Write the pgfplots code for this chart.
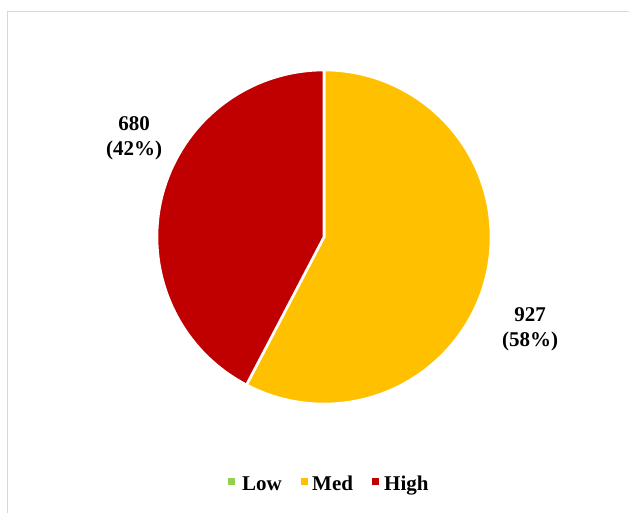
\documentclass[border=0pt]{standalone}
\usepackage{fontspec}
\setmainfont{Liberation Serif}
\usepackage{pgfplots}
\usepackage{pgfplotstable}
\pgfplotsset{compat=1.18}

\definecolor{cLow}{HTML}{92D050}
\definecolor{cMed}{HTML}{FFC000}
\definecolor{cHigh}{HTML}{C00000}

% Counts per level
\pgfplotstableread{
level value
Low   0
Med   927
High  680
}\counts

\begin{document}
\begin{tikzpicture}
\pgfplotstablegetelem{0}{value}\of\counts \let\vLow\pgfplotsretval
\pgfplotstablegetelem{1}{value}\of\counts \let\vMed\pgfplotsretval
\pgfplotstablegetelem{2}{value}\of\counts \let\vHigh\pgfplotsretval
\pgfmathsetmacro\total{\vLow+\vMed+\vHigh}
\pgfmathsetmacro\fLow{\vLow/\total}
\pgfmathsetmacro\fMed{\vMed/\total}
\pgfmathsetmacro\fHigh{\vHigh/\total}
% slices run clockwise from twelve o'clock
\pgfmathsetmacro\aA{90}
\pgfmathsetmacro\aB{\aA-360*\fLow}
\pgfmathsetmacro\aC{\aB-360*\fMed}
\pgfmathsetmacro\aD{\aC-360*\fHigh}
\pgfmathtruncatemacro\pMed{round(100*\fMed)}
\pgfmathtruncatemacro\pHigh{round(100*\fHigh)}
\begin{axis}[
  at={(0,0)}, anchor=north west,
  x=1pt, y=1pt, scale only axis,
  xmin=0, xmax=629, ymin=-513, ymax=0,
  hide axis, clip=false,
]
% chart frame
\draw[color=black!15, line width=1.6pt] (axis cs:7.5,-513) -- (axis cs:7.5,-11.5) -- (axis cs:629,-11.5);
% slices
\def\R{167pt}
\fill[cMed, draw=white, line width=2.6pt, line join=round]
  (axis cs:324,-237) -- ++(\aB:\R) arc[start angle=\aB, end angle=\aC, radius=\R] -- cycle;
\fill[cHigh, draw=white, line width=2.6pt, line join=round]
  (axis cs:324,-237) -- ++(\aC:\R) arc[start angle=\aC, end angle=\aD, radius=\R] -- cycle;
% data labels
\node[font=\bfseries\fontsize{21}{25}\selectfont, align=center]
  at (axis cs:134,-138) {\vHigh\\(\pHigh\%)};
\node[font=\bfseries\fontsize{21}{25}\selectfont, align=center]
  at (axis cs:530,-329) {\vMed\\(\pMed\%)};
% legend
\fill[cLow]  (axis cs:228,-478) rectangle (axis cs:235,-485);
\fill[cMed]  (axis cs:301,-478) rectangle (axis cs:308,-485);
\fill[cHigh] (axis cs:372,-478) rectangle (axis cs:379,-485);
\node[font=\bfseries\fontsize{21}{25}\selectfont, anchor=base west, inner sep=0pt] at (axis cs:242,-490) {Low};
\node[font=\bfseries\fontsize{21}{25}\selectfont, anchor=base west, inner sep=0pt] at (axis cs:312,-490) {Med};
\node[font=\bfseries\fontsize{21}{25}\selectfont, anchor=base west, inner sep=0pt] at (axis cs:384,-490) {High};
\end{axis}
\pgfresetboundingbox
\useasboundingbox (0,0) rectangle (629pt,-513pt);
\end{tikzpicture}
\end{document}
